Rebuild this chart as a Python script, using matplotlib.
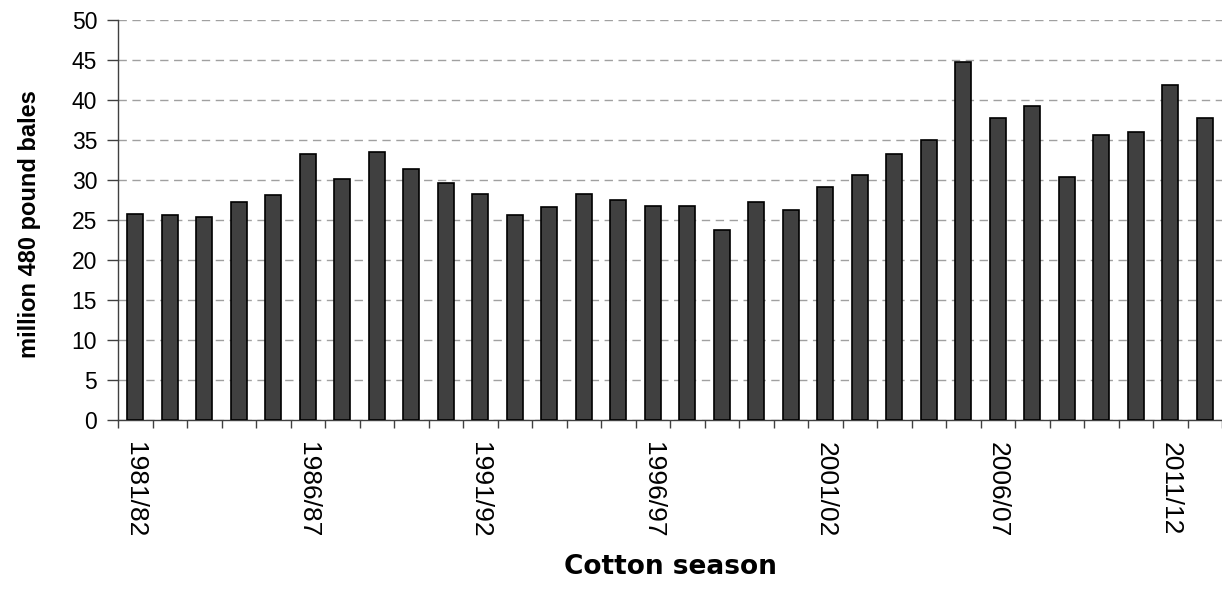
import numpy as np
import matplotlib
matplotlib.use('Agg')
import matplotlib.pyplot as plt

# Temporadas de algodón y producción (millones de pacas de 480 libras)
seasons = [f"{y}/{str(y + 1)[-2:]}" for y in range(1981, 2013)]
production = [25.7, 25.6, 25.4, 27.2, 28.1, 33.3, 30.1, 33.5, 31.4, 29.6,
              28.3, 25.6, 26.6, 28.3, 27.5, 26.8, 26.8, 23.7, 27.2, 26.2,
              29.1, 30.6, 33.3, 35.0, 44.8, 37.7, 39.2, 30.4, 35.6, 36.0,
              41.9, 37.7]
label_every = 5

plt.rcParams['font.family'] = ['Liberation Sans', 'DejaVu Sans']

fig = plt.figure(figsize=(12.22, 5.92), dpi=100)
ax = fig.add_axes([118 / 1222, 1 - 420 / 592, 1 - 118 / 1222, 400 / 592])

x = np.arange(len(seasons))
ax.bar(x, production, width=0.45, color='#404040', edgecolor='black',
       linewidth=1.2, zorder=3)

ax.set_xlim(-0.5, len(seasons) - 0.5)
ax.set_ylim(0, 50)
ax.set_yticks(np.arange(0, 51, 5))
ax.yaxis.grid(True, linestyle=(0, (6, 4)), color='#a0a0a0', linewidth=1, zorder=0)

# etiquetas cada 5 temporadas, marcas en los límites de categoría
ax.set_xticks(x[::label_every])
ax.set_xticklabels(seasons[::label_every], rotation=270, fontsize=19)
ax.set_xticks(np.arange(-0.5, len(seasons), 1), minor=True)
ax.tick_params(axis='x', which='major', length=0, pad=16)
ax.tick_params(axis='x', which='minor', length=6, width=1, color='#404040', direction='out')
ax.tick_params(axis='y', labelsize=16.5, length=8, width=1, color='#404040', pad=7)

for s in ['top', 'right']:
    ax.spines[s].set_visible(False)
for s in ['left', 'bottom']:
    ax.spines[s].set_color('#404040')
    ax.spines[s].set_linewidth(1)

ax.set_ylabel('million 480 pound bales', fontsize=17, fontweight='bold')
ax.yaxis.set_label_coords(-0.07, 0.49)
ax.set_xlabel('Cotton season', fontsize=19, fontweight='bold', family=['DejaVu Sans'])
ax.xaxis.set_label_coords(0.5, -0.335)

fig.savefig('out.png', dpi=100)
